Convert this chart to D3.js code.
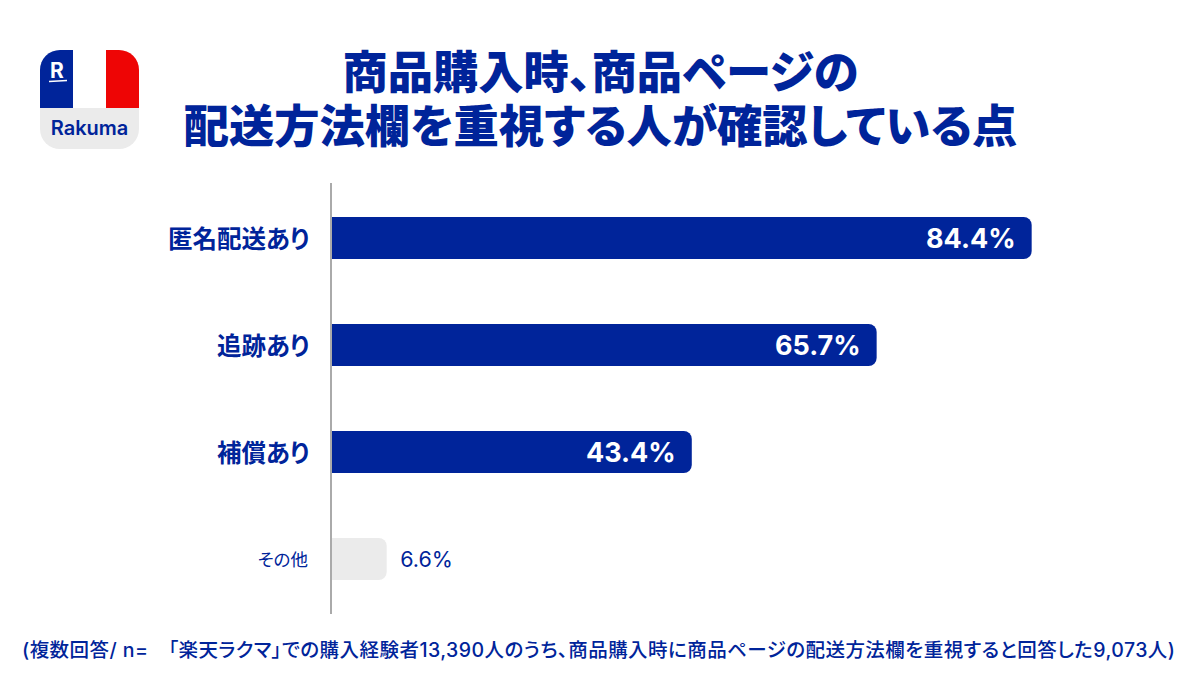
<!DOCTYPE html>
<html lang="ja"><head><meta charset="utf-8">
<script src="https://cdn.jsdelivr.net/npm/d3@7"></script>
<style>html,body{margin:0;padding:0;background:#fff}svg{display:block}text{font-family:Inter,"Noto Sans CJK JP","Noto Sans",sans-serif;font-feature-settings:"palt"}</style>
</head><body><svg id="c" width="1200" height="700"></svg>
<script>
const categories = ["匿名配送あり","追跡あり","補償あり","その他"];
const values = [84.4,65.7,43.4,6.6];
const valueLabels = ["84.4%","65.7%","43.4%","6.6%"];
const titleLines = ["商品購入時、商品ページの","配送方法欄を重視する人が確認している点"];
const footnote = "(複数回答/ n=　「楽天ラクマ」での購入経験者13,390人のうち、商品購入時に商品ページの配送方法欄を重視すると回答した9,073人)";
const navy = "#00249a", grey = "#ebebeb";

const svg = d3.select("#c");
const x = d3.scaleLinear().domain([0,100]).range([332,1161]);
const y = d3.scaleBand().domain(categories).range([184.5,612.5]).paddingInner(0.607).paddingOuter(0.3035);

// title
const title = svg.append("text").attr("text-anchor","middle").attr("font-size",45.3).attr("font-weight",900).attr("fill",navy);
title.selectAll("tspan").data(titleLines).join("tspan").attr("x",600.5).attr("y",(d,i)=>[89,143][i]).text(d=>d);

// logo
const logo = svg.append("g").attr("transform","translate(40,50)");
const defs = svg.append("defs");
defs.append("clipPath").attr("id","lg").append("rect").attr("width",99).attr("height",99).attr("rx",20);
const lg = logo.append("g").attr("clip-path","url(#lg)");
lg.append("rect").attr("width",99).attr("height",99).attr("fill",grey);
lg.append("rect").attr("width",33).attr("height",58).attr("fill",navy);
lg.append("rect").attr("x",33).attr("width",33).attr("height",58).attr("fill","#fff");
lg.append("rect").attr("x",66).attr("width",33).attr("height",58).attr("fill","#ee0505");
logo.append("text").attr("x",17).attr("y",28).attr("text-anchor","middle").attr("font-size",21).attr("font-weight",700).attr("fill","#fff").text("R");
logo.append("line").attr("x1",9).attr("x2",27).attr("y1",31.5).attr("y2",30.5).attr("stroke","#fff").attr("stroke-width",1.5);
logo.append("text").attr("x",49.5).attr("y",85).attr("text-anchor","middle").attr("font-size",20).attr("font-weight",600).attr("fill",navy).text("Rakuma");

// bars (square on left, rounded on right)
const r = 8, bh = y.bandwidth();
svg.selectAll("path.bar").data(categories).join("path").attr("class","bar")
  .attr("fill",(d,i)=>i<3?navy:grey)
  .attr("d",(d,i)=>{const p=d3.path(),x0=x(0),x1=x(values[i]),t=y(d),b=t+bh;
    p.moveTo(x0,t);p.lineTo(x1-r,t);p.arcTo(x1,t,x1,t+r,r);p.lineTo(x1,b-r);p.arcTo(x1,b,x1-r,b,r);p.lineTo(x0,b);p.closePath();return p;});

// axis line
svg.append("line").attr("x1",331).attr("x2",331).attr("y1",183).attr("y2",614).attr("stroke","#aaaaaa").attr("stroke-width",2);

// category labels
svg.selectAll("text.cat").data(categories).join("text").attr("class","cat")
  .attr("x",(d,i)=>i<3?309.5:308).attr("y",d=>y(d)+bh/2+1).attr("dy","0.36em").attr("text-anchor","end")
  .attr("font-size",(d,i)=>i<3?24.5:17.5).attr("font-weight",(d,i)=>i<3?700:400).attr("fill",navy).text(d=>d);

// value labels
svg.selectAll("text.val").data(categories).join("text").attr("class","val")
  .attr("x",(d,i)=>i<3?x(values[i])-16:x(values[i])+13.5)
  .attr("y",d=>y(d)+bh/2).attr("dy","0.36em")
  .attr("text-anchor",(d,i)=>i<3?"end":"start")
  .attr("font-size",(d,i)=>i<3?27:21.5).attr("font-weight",(d,i)=>i<3?700:400)
  .attr("fill",(d,i)=>i<3?"#fff":navy).text((d,i)=>valueLabels[i]);

// footnote
svg.append("text").attr("x",22).attr("y",657).attr("font-size",19.5).attr("font-weight",500).attr("fill",navy).attr("textLength",1153).attr("lengthAdjust","spacing").text(footnote);
</script></body></html>
